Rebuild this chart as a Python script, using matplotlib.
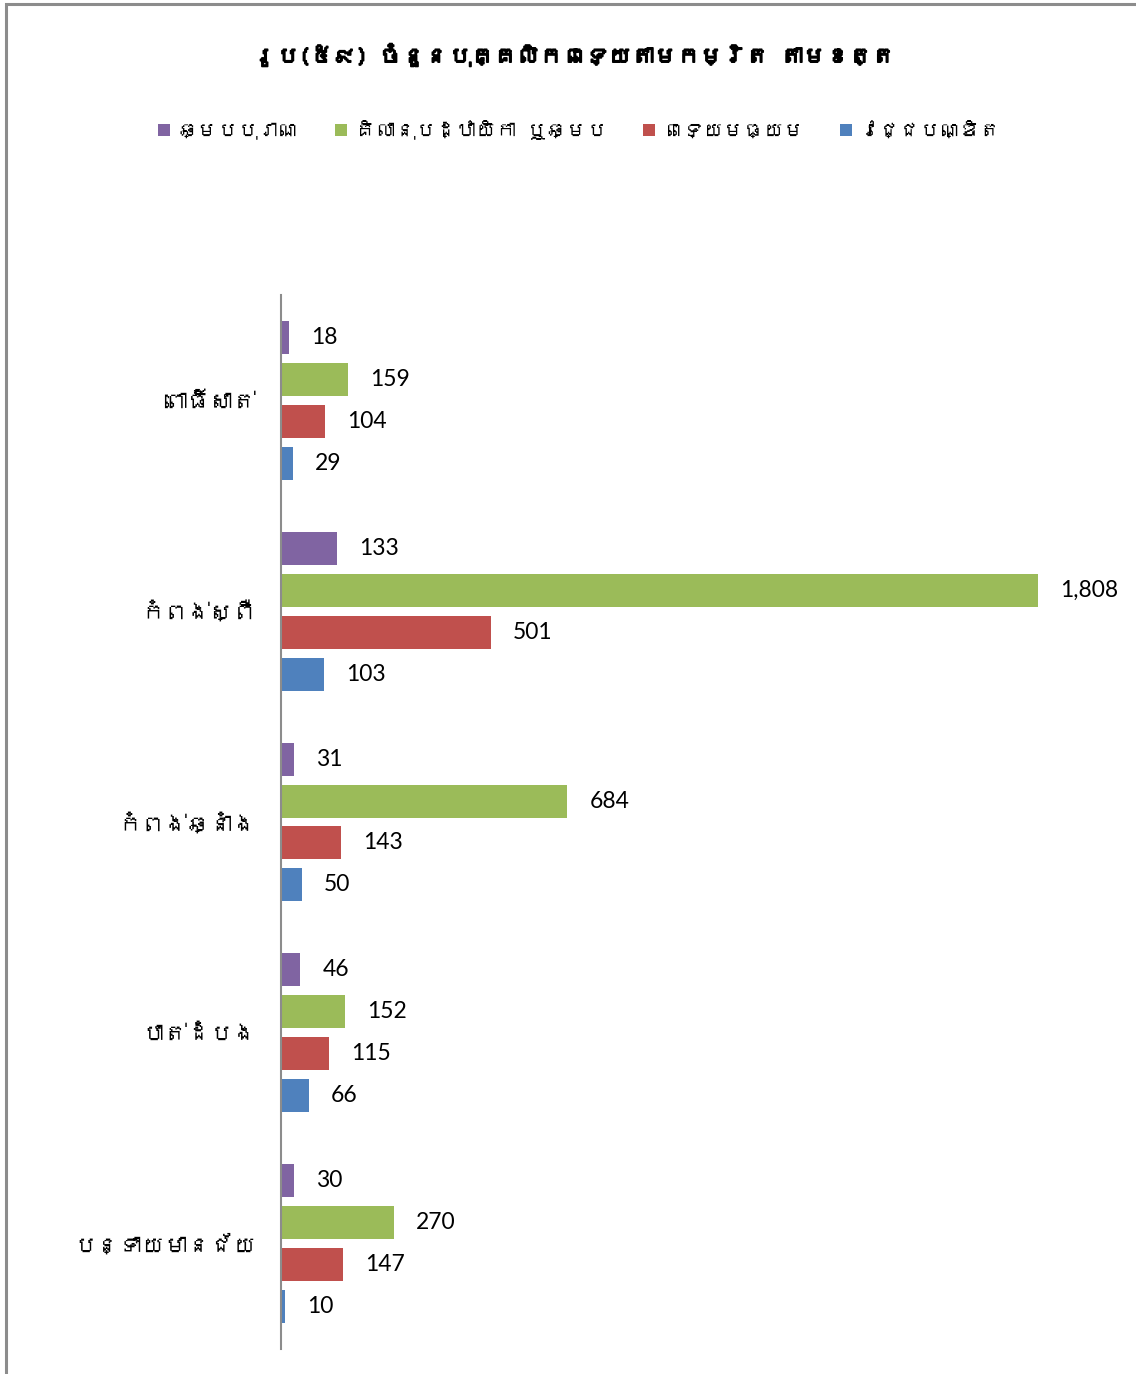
import matplotlib
matplotlib.use("Agg")
import matplotlib.pyplot as plt
import matplotlib.patheffects as pe
from matplotlib import font_manager
from matplotlib.ft2font import FT2Font
from matplotlib.patches import Rectangle

title = "រូប(៥៩) ចំនួនបុគ្គលិកពេទ្យតាមកម្រិត តាមខេត្ត"
provinces = ["ពោធិ៍សាត់", "កំពង់ស្ពឺ", "កំពង់ឆ្នាំង", "បាត់ដំបង", "បន្ទាយមានជ័យ"]
series_names = ["ឆ្មបបុរាណ", "គិលានុបដ្ឋាយិកា ឬឆ្មប", "ពេទ្យមធ្យម", "វេជ្ជបណ្ឌិត"]
midwife_trad = [18, 133, 31, 46, 30]
nurse_midwife = [159, 1808, 684, 152, 270]
medical_asst = [104, 501, 143, 115, 147]
doctor = [29, 103, 50, 66, 10]
colors = ["#8064A2", "#9BBB59", "#C0504D", "#4F81BD"]


def find_khmer_font():
    # look for any installed font that has Khmer glyphs
    for path in sorted(font_manager.findSystemFonts()):
        try:
            cmap = FT2Font(path).get_charmap()
        except Exception:
            continue
        if 0x1780 in cmap and 0x1794 in cmap:
            return font_manager.FontProperties(fname=path).get_name()
    return None


kh = find_khmer_font()
fams = ([kh] if kh else []) + ["Lato", "DejaVu Sans"]
plt.rcParams["font.family"] = fams

fig = plt.figure(figsize=(11.36, 13.74), dpi=100)
fig.patches.append(Rectangle((6 / 1136, -0.1), 1.2, 1.1 - 3.5 / 1374, transform=fig.transFigure,
                             fill=False, edgecolor="#8c8c8c", linewidth=2.2))

ax = fig.add_axes([281 / 1136, 1 - 1349 / 1374, (1100 - 281) / 1136, (1349 - 295) / 1374])

data = [midwife_trad, nurse_midwife, medical_asst, doctor]
step = 42 / 211
h = 33 / 211
for k, (vals, c, name) in enumerate(zip(data, colors, series_names)):
    ys = [i + (k - 1.5) * step for i in range(len(provinces))]
    bars = ax.barh(ys, vals, height=h, color=c, label=name)
    ax.bar_label(bars, labels=[f"{v:,}" for v in vals], padding=16, fontsize=16.5,
                 family=["Lato", "DejaVu Sans"], color="black")

ax.set_ylim(len(provinces) - 0.5, -0.5)
ax.set_xlim(0, 1808 * (1100 - 281) / (1038 - 281))
ax.set_yticks(range(len(provinces)))
ax.set_yticklabels(provinces, fontsize=16.5)
ax.tick_params(axis="y", length=0, pad=18)
ax.set_xticks([])
for s in ["top", "right", "bottom"]:
    ax.spines[s].set_visible(False)
ax.spines["left"].set_color("#8c8c8c")
ax.spines["left"].set_linewidth(1.5)

# khmer font has no bold face, thicken the title a little
fig.text(0.505, 1 - 55 / 1374, title, ha="center", va="center", fontsize=16.5, fontweight="bold",
         path_effects=[pe.withStroke(linewidth=1.2, foreground="black")])
fig.legend(loc="center", bbox_to_anchor=(0.51, 1 - 130 / 1374), ncol=4, frameon=False,
           fontsize=14.5, handlelength=0.6, handleheight=0.6, handletextpad=0.4, columnspacing=1.8)

fig.savefig("out.png", dpi=100)
